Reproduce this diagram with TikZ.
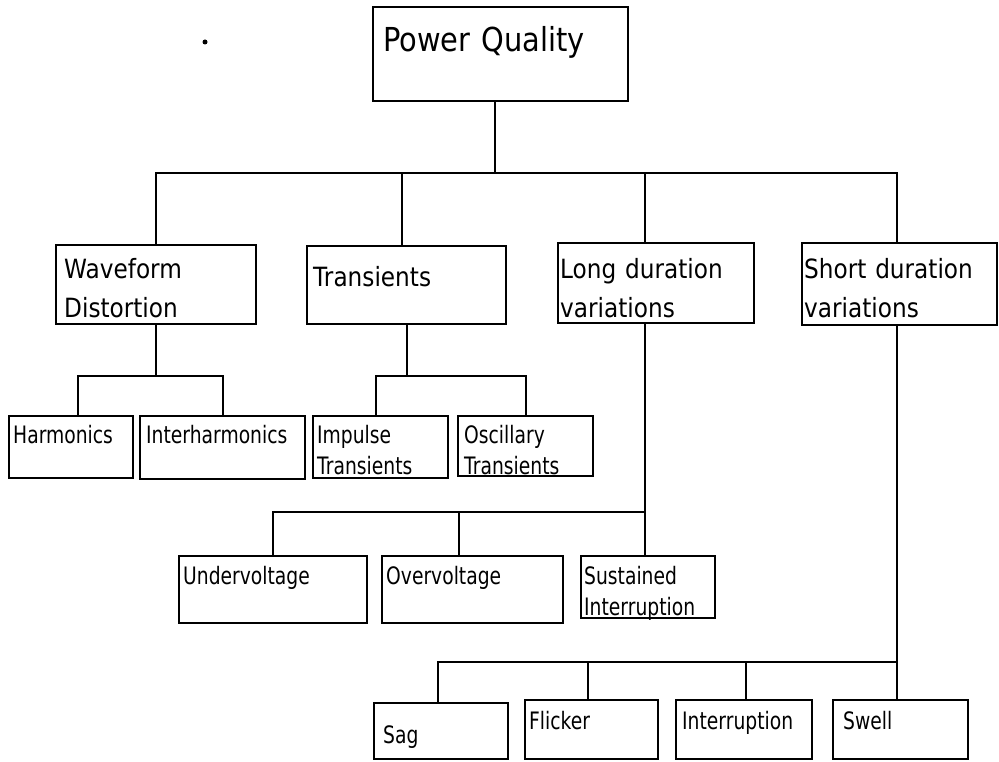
\documentclass[tikz,border=0pt]{standalone}
\usepackage{fontspec}
\setmainfont{DejaVu Sans}[FakeStretch=0.875]
\newfontfamily\leaffont{DejaVu Sans}[FakeStretch=0.78]
\hyphenpenalty=10000
\usetikzlibrary{calc}
\tikzset{
  every picture/.style={line width=2.4pt},
  box/.style={draw, rectangle, anchor=north west, inner ysep=0pt, align=left},
  topbox/.style={box, font=\fontsize{33}{40}\selectfont},
  groupbox/.style={box, font=\fontsize{26.5}{39}\selectfont},
  leafbox/.style={box, font=\leaffont\fontsize{24}{31}\selectfont},
}

\begin{document}
\begin{tikzpicture}[x=1pt, y=-1pt]
  \useasboundingbox (0,0) rectangle (999,762);
  % root
  \node[topbox, inner xsep=10pt, text width=235pt, text height=44pt, text depth=50pt] (pq) at (372,6) {Power Quality};
  % first level
  \node[groupbox, inner xsep=8pt, text width=184pt, text height=33pt, text depth=46pt] (wave) at (55,244) {Waveform\\Distortion};
  \node[groupbox, inner xsep=6pt, text width=187pt, text height=40pt, text depth=38pt] (trans) at (306,245) {Transients};
  \node[groupbox, inner xsep=2pt, text width=192pt, text height=35pt, text depth=45pt] (long) at (557,242) {Long duration\\variations};
  \node[groupbox, inner xsep=2pt, text width=191pt, text height=35pt, text depth=47pt] (short) at (801,242) {Short duration\\variations};
  % second level
  \node[leafbox, inner xsep=4pt, text width=116pt, text height=27pt, text depth=35pt] (harm) at (8,415) {Harmonics};
  \node[leafbox, inner xsep=6pt, text width=153pt, text height=27pt, text depth=36pt] (inter) at (139,415) {Interharmonics};
  \node[leafbox, inner xsep=4pt, text width=127pt, text height=27pt, text depth=35pt] (impulse) at (312,415) {Impulse\\Transients};
  \node[leafbox, inner xsep=6pt, text width=123pt, text height=27pt, text depth=33pt] (osc) at (457,415) {Oscillary\\Transients};
  \node[leafbox, inner xsep=4pt, text width=180pt, text height=28pt, text depth=39pt] (under) at (178,555) {Undervoltage};
  \node[leafbox, inner xsep=4pt, text width=173pt, text height=28pt, text depth=39pt] (over) at (381,555) {Overvoltage};
  \node[leafbox, inner xsep=3pt, text width=128pt, text height=28pt, text depth=34pt] (sust) at (580,555) {Sustained\\Interruption};
  \node[leafbox, inner xsep=9pt, text width=116pt, text height=40pt, text depth=16pt] (sag) at (373,702) {Sag};
  \node[leafbox, inner xsep=4pt, text width=125pt, text height=29pt, text depth=30pt] (flick) at (524,699) {Flicker};
  \node[leafbox, inner xsep=6pt, text width=124pt, text height=29pt, text depth=30pt] (intr) at (675,699) {Interruption};
  \node[leafbox, inner xsep=10pt, text width=115pt, text height=29pt, text depth=30pt] (swell) at (832,699) {Swell};

  \coordinate (busA) at (0,173);
  \coordinate (busB) at (0,376);
  \coordinate (busC) at (0,512);
  \coordinate (busD) at (0,662);

  % root to first level
  \draw ([xshift=-6pt]pq.south) -- ([xshift=-6pt]pq.south |- busA);
  \draw (wave.north) |- ([xshift=-3pt]short.north |- busA) -- ([xshift=-3pt]short.north);
  \draw ([xshift=-5pt]trans.north) -- ([xshift=-5pt]trans.north |- busA);
  \draw ([xshift=-11pt]long.north) -- ([xshift=-11pt]long.north |- busA);
  % waveform distortion
  \draw (wave.south) -- (wave.south |- busB);
  \draw ([xshift=7pt]harm.north) |- (busB -| inter.north) -- (inter.north);
  % transients
  \draw (trans.south) -- (trans.south |- busB);
  \draw ([xshift=-5pt]impulse.north) |- (busB -| osc.north) -- (osc.north);
  % long duration
  \draw ([xshift=-11pt]long.south) -- ([xshift=-11pt]long.south |- sust.north);
  \draw (under.north) |- ([xshift=-11pt]long.south |- busC);
  \draw ([xshift=-14pt]over.north) -- ([xshift=-14pt]over.north |- busC);
  % short duration
  \draw ([xshift=-3pt]short.south) -- ([xshift=-3pt]short.south |- swell.north);
  \draw ([xshift=-3pt]sag.north) |- ([xshift=-3pt]short.south |- busD);
  \draw ([xshift=-4pt]flick.north) -- ([xshift=-4pt]flick.north |- busD);
  \draw ([xshift=2pt]intr.north) -- ([xshift=2pt]intr.north |- busD);

  \fill (205,42) circle (2.5pt);
\end{tikzpicture}
\end{document}
